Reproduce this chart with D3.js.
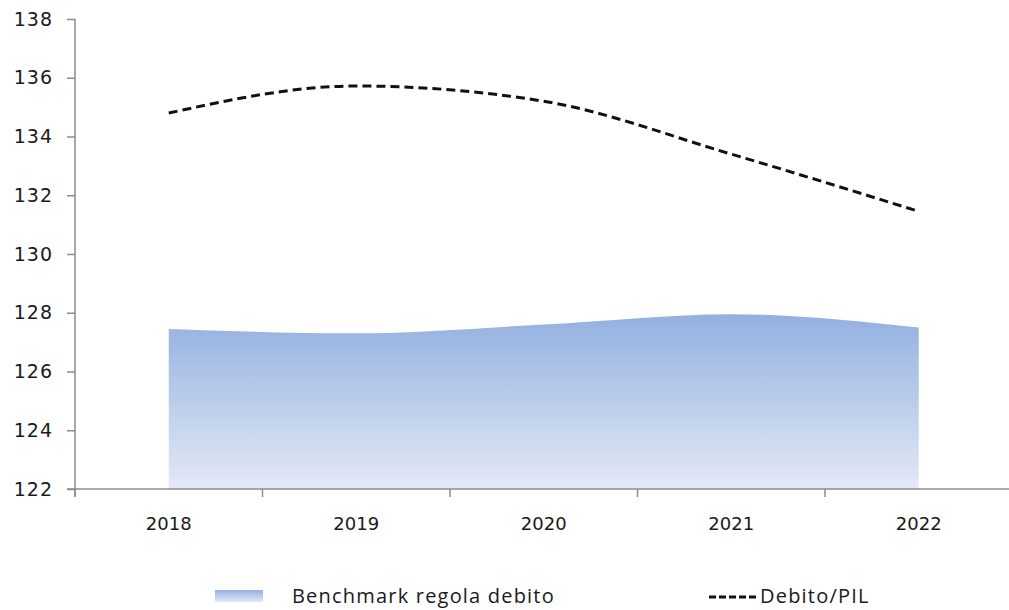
<!DOCTYPE html>
<html>
<head>
<meta charset="utf-8">
<script src="https://cdn.jsdelivr.net/npm/d3@7"></script>
<style>
  body { margin: 0; background: #fff; }
</style>
</head>
<body>
<div id="chart"></div>
<script>
// data
var years = ["2018", "2019", "2020", "2021", "2022"];
var benchmark = [127.45, 127.3, 127.6, 127.95, 127.5];
var debitoPil = [134.8, 135.72, 135.2, 133.4, 131.45];
var yTicks = [122, 124, 126, 128, 130, 132, 134, 136, 138];

var w = 1009,
    h = 610,
    svg = d3.select("#chart")
            .append("svg")
            .attr("width", w)
            .attr("height", h);

// gradient for the area
var grad = svg.append("defs").append("linearGradient")
    .attr("id", "fillGrad")
    .attr("x1", 0).attr("y1", 0).attr("x2", 0).attr("y2", 1);
grad.append("stop").attr("offset", "0%").attr("stop-color", "#93b0e0");
grad.append("stop").attr("offset", "100%").attr("stop-color", "#e3e9f6");

// scales
var x = d3.scaleBand()
    .domain(years)
    .range([75, 1012.5]);

var y = d3.scaleLinear()
    .domain([122, 138])
    .range([489, 19]);

function cx(d, i) { return x(years[i]) + x.bandwidth() / 2; }

// area
var area = d3.area()
    .x(cx)
    .y0(y(122))
    .y1(function(d) { return y(d); })
    .curve(d3.curveMonotoneX);

svg.append("path")
    .datum(benchmark)
    .attr("fill", "url(#fillGrad)")
    .attr("d", area);

// y axis
var yAxis = svg.append("g")
    .attr("transform", "translate(75,0)")
    .call(d3.axisLeft(y).tickValues(yTicks).tickSize(8).tickPadding(14));
yAxis.select(".domain").attr("stroke", "#8c8c8c").attr("stroke-width", 1.5)
    .attr("d", "M0," + y(138) + "V" + (y(122) + 8));
yAxis.selectAll(".tick line").attr("stroke", "#8c8c8c").attr("stroke-width", 1.5);
yAxis.selectAll("text")
    .attr("font-family", "DejaVu Sans")
    .attr("font-size", "19px")
    .attr("letter-spacing", "1px")
    .attr("fill", "#1a1a1a");

// x axis
var xAxis = svg.append("g")
    .attr("transform", "translate(0," + y(122) + ")");
xAxis.append("line")
    .attr("x1", 67).attr("x2", w)
    .attr("stroke", "#8c8c8c").attr("stroke-width", 1.5);
xAxis.selectAll(".sep")
    .data(years)
    .enter().append("line")
    .attr("x1", function(d) { return x(d); })
    .attr("x2", function(d) { return x(d); })
    .attr("y1", 0).attr("y2", 8)
    .attr("stroke", "#8c8c8c").attr("stroke-width", 1.5);
xAxis.selectAll(".lab")
    .data(years)
    .enter().append("text")
    .attr("x", function(d) { return x(d) + x.bandwidth() / 2; })
    .attr("y", 41)
    .attr("text-anchor", "middle")
    .attr("font-family", "DejaVu Sans")
    .attr("font-size", "18px")
    .attr("fill", "#1a1a1a")
    .text(function(d) { return d; });

// dashed line
var line = d3.line()
    .x(cx)
    .y(function(d) { return y(d); })
    .curve(d3.curveMonotoneX);

svg.append("path")
    .datum(debitoPil)
    .attr("fill", "none")
    .attr("stroke", "#111")
    .attr("stroke-width", 3)
    .attr("stroke-dasharray", "9,5")
    .attr("d", line);

// legend
svg.append("rect")
    .attr("x", 215).attr("y", 590)
    .attr("width", 48).attr("height", 12)
    .attr("fill", "url(#fillGrad)");
render_text("Benchmark regola debito", 292, 603);

svg.append("line")
    .attr("x1", 709).attr("x2", 757)
    .attr("y1", 597).attr("y2", 597)
    .attr("stroke", "#111")
    .attr("stroke-width", 3)
    .attr("stroke-dasharray", "7,3");
render_text("Debito/PIL", 760, 603);

function render_text(text, tx, ty) {
    svg.append("text")
        .attr("font-family", "Open Sans")
        .attr("font-size", "20px")
        .attr("letter-spacing", "1.2px")
        .attr("fill", "#1a1a1a")
        .attr("x", tx)
        .attr("y", ty)
        .text(text);
}
</script>
</body>
</html>
